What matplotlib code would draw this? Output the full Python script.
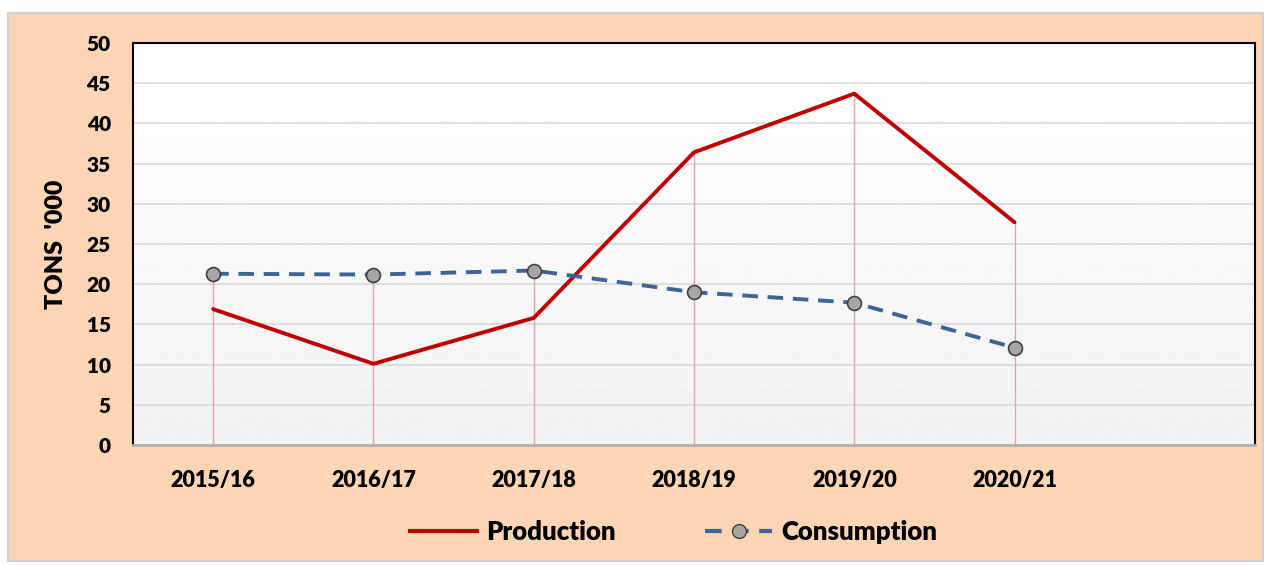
import numpy as np
import matplotlib.pyplot as plt
from matplotlib.patches import Rectangle
from matplotlib.lines import Line2D

# datos
seasons = ['2015/16', '2016/17', '2017/18', '2018/19', '2019/20', '2020/21']
production = [16.9, 10.1, 15.8, 36.4, 43.7, 27.7]
consumption = [21.3, 21.2, 21.7, 19.0, 17.7, 12.1]
n_slots = 7  # Excel deja una categoría vacía a la derecha

plt.rcParams['font.family'] = ['Lato', 'DejaVu Sans']
plt.rcParams['font.weight'] = 'bold'

fig = plt.figure(figsize=(12.71, 5.66), dpi=100)
fig.patch.set_facecolor('white')

# fondo melocotón con borde gris
W, H = 1271, 566
bg = Rectangle((8 / W, 1 - 561 / H), (1263 - 8) / W, (561 - 13) / H,
               transform=fig.transFigure, facecolor='#fcd5b5',
               edgecolor='#d0d0d0', linewidth=1.5, zorder=-10)
fig.patches.append(bg)

left, right, top, bottom = 133, 1255, 43, 445
ax = fig.add_axes([left / W, 1 - bottom / H, (right - left) / W, (bottom - top) / H])

x = np.arange(len(seasons))
ax.set_xlim(-0.5, n_slots - 0.5)
ax.set_ylim(0, 50)

# degradado blanco -> gris claro
grad = np.linspace(1.0, 0.95, 256).reshape(-1, 1)
ax.imshow(grad, extent=[0, 1, 0, 1], transform=ax.transAxes, aspect='auto',
          cmap='gray', vmin=0, vmax=1, zorder=0)

for yv in range(5, 50, 5):
    ax.axhline(yv, color='#d9d9d9', linewidth=1.2, zorder=1)

# líneas de caída
tops = np.maximum(production, consumption)
ax.vlines(x, 0, tops, color='#e6a3ab', linewidth=1.0, zorder=2)

ax.plot(x, production, color='#c00000', linewidth=2.8, zorder=3,
        solid_capstyle='round')
ax.plot(x, consumption, color='#3c6496', linewidth=2.8, linestyle=(0, (4, 2.5)),
        marker='o', markersize=10, markerfacecolor='#a6a6a6',
        markeredgecolor='#404040', markeredgewidth=1.2, zorder=4)

ax.set_yticks(range(0, 51, 5))
ax.set_xticks(x)
ax.set_xticklabels(seasons)
ax.tick_params(axis='y', labelsize=15, length=0, pad=16)
ax.tick_params(axis='x', labelsize=15.5, length=0, pad=18)
for lab in ax.get_xticklabels() + ax.get_yticklabels():
    lab.set_fontweight('heavy')

for s in ['top', 'left', 'right']:
    ax.spines[s].set_color('black')
    ax.spines[s].set_linewidth(1.5)
ax.spines['bottom'].set_color('#b0b0b0')
ax.spines['bottom'].set_linewidth(2)

ax.set_ylabel("TONS  '000", fontsize=18, fontweight='heavy', labelpad=14)

handles = [
    Line2D([], [], color='#c00000', linewidth=3),
    Line2D([], [], color='#3c6496', linewidth=3, linestyle=(0, (4, 2.5)),
           marker='o', markersize=10, markerfacecolor='#a6a6a6',
           markeredgecolor='#404040'),
]
fig.legend(handles, ['Production', 'Consumption'], loc='center',
           bbox_to_anchor=(0.53, 1 - 532 / H), ncol=2, frameon=False,
           prop={'size': 18.5, 'weight': 'heavy'}, handlelength=2.6,
           handletextpad=0.35, columnspacing=3.5)

fig.savefig('out.png', dpi=100)
